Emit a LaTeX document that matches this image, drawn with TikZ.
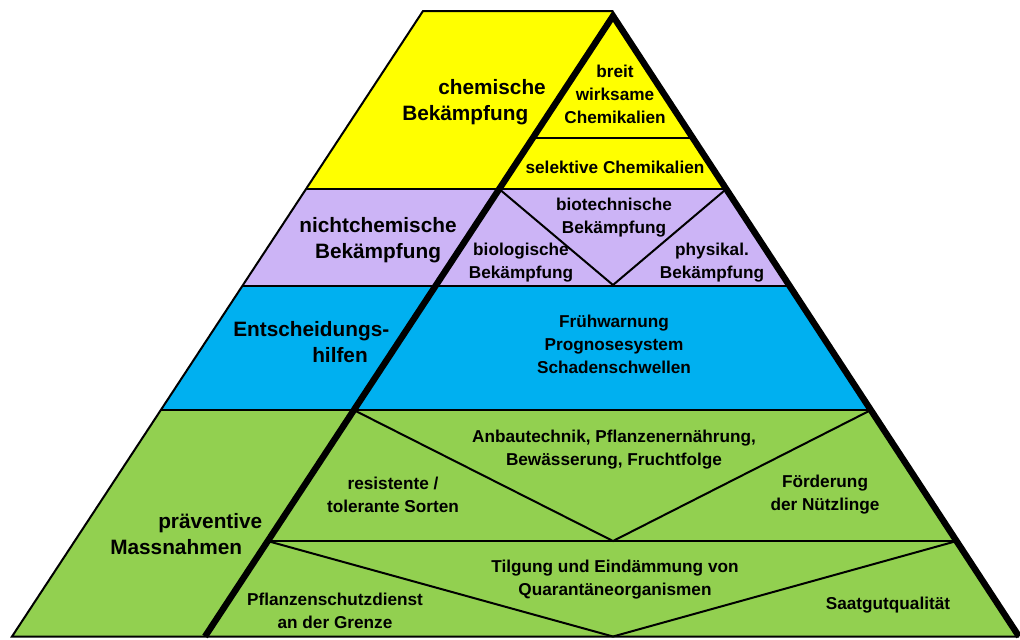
\documentclass[tikz,border=0pt]{standalone}
\usepackage{fontspec}
\setmainfont{Liberation Sans}
\definecolor{cyel}{RGB}{255,255,0}
\definecolor{cpur}{RGB}{204,180,246}
\definecolor{cblu}{RGB}{0,176,240}
\definecolor{cgrn}{RGB}{146,208,80}
\newcommand\pyrbig{\fontsize{15.6}{19.5}\selectfont\bfseries}
\newcommand\pyrsmall{\fontsize{12.9}{17.25}\selectfont\bfseries}
\begin{document}
\begin{tikzpicture}[x=0.75pt,y=-0.75pt,
  thinline/.style={line width=1.5pt, line join=miter},
  thickline/.style={line width=4.8pt, line join=miter},
  lab/.style={font=\pyrsmall, align=center, anchor=base, inner sep=0pt},
  biglab/.style={font=\pyrbig, inner sep=0pt}]
\useasboundingbox (0,0) rectangle (1020,639);
% outline coordinates
\coordinate (TL) at (423,11);
\coordinate (TR) at (613,11);
\coordinate (A)  at (613,16);
\coordinate (BL) at (12,636.5);
\coordinate (BI) at (205,636.5);
\coordinate (BR) at (1019,636.5);
% band fills
\begin{scope}
  \clip (TL) -- (TR) -- (A) -- (BR) -- (BL) -- cycle;
  \fill[cyel] (0,0) rectangle (1020,189);
  \fill[cpur] (0,189) rectangle (1020,286);
  \fill[cblu] (0,286) rectangle (1020,410);
  \fill[cgrn] (0,410) rectangle (1020,639);
\end{scope}
% band boundaries
\coordinate (L1) at (305.9,189);  \coordinate (R1) at (726.3,189);
\coordinate (L2) at (242.2,286);  \coordinate (R2) at (789.8,286);
\coordinate (L3) at (160.6,410);  \coordinate (R3) at (871.0,410);
\draw[thinline] (L1) -- (R1);
\draw[thinline] (L2) -- (R2);
\draw[thinline] (L3) -- (R3);
% inner subdivisions
\coordinate (Y1) at (532.7,138); \coordinate (Y2) at (692.9,138);
\draw[thinline] (Y1) -- (Y2);
\coordinate (P1) at (499.2,189); \coordinate (PV) at (613,285); \coordinate (P2) at (726.3,189);
\draw[thinline] (P1) -- (PV) -- (P2);
\coordinate (G1) at (353.7,410); \coordinate (GV) at (613,541); \coordinate (G2) at (871.0,410);
\draw[thinline] (G1) -- (GV) -- (G2);
\coordinate (H1) at (267.5,541); \coordinate (H2) at (956.8,541);
\draw[thinline] (H1) -- (H2);
\coordinate (KV) at (613,636.5);
\draw[thinline] (H1) -- (KV) -- (H2);
% outline
\draw[thinline] (TR) -- (TL) -- (BL) -- (BR);
\draw[thickline] (BI) -- (A) -- (BR);
% left labels (y = baseline of last line)
\node[biglab, align=left, anchor=base west] (chem) at (402,120) {\hspace*{27pt}chemische\\Bekämpfung};
\node[biglab, align=center, anchor=base] (nichtchem) at (378,258) {nichtchemische\\Bekämpfung};
\node[biglab, align=left, anchor=base west] (entsch) at (233,362) {Entscheidungs-\\\hspace*{59.25pt}hilfen};
\node[biglab, align=left, anchor=base west] (praev) at (110,554) {\hspace*{36pt}präventive\\Massnahmen};
% inner labels (y = baseline of last line)
\node[lab] (breit) at (615,123) {breit\\wirksame\\Chemikalien};
\node[lab] (selektiv) at (615,173) {selektive Chemikalien};
\node[lab] (biotech) at (614,233) {biotechnische\\Bekämpfung};
\node[lab] (biolog) at (521,278) {biologische\\Bekämpfung};
\node[lab] (physik) at (712,278) {physikal.\\Bekämpfung};
\node[lab] (frueh) at (614,373) {Frühwarnung\\Prognosesystem\\Schadenschwellen};
\node[lab] (anbau) at (614,465) {Anbautechnik, Pflanzenernährung,\\Bewässerung, Fruchtfolge};
\node[lab] (resist) at (393,512) {resistente /\\tolerante Sorten};
\node[lab] (foerd) at (825,510) {Förderung\\der Nützlinge};
\node[lab] (tilg) at (615,595) {Tilgung und Eindämmung von\\Quarantäneorganismen};
\node[lab] (pflanz) at (335,628) {Pflanzenschutzdienst\\an der Grenze};
\node[lab] (saat) at (888,609) {Saatgutqualität};
\end{tikzpicture}
\end{document}
